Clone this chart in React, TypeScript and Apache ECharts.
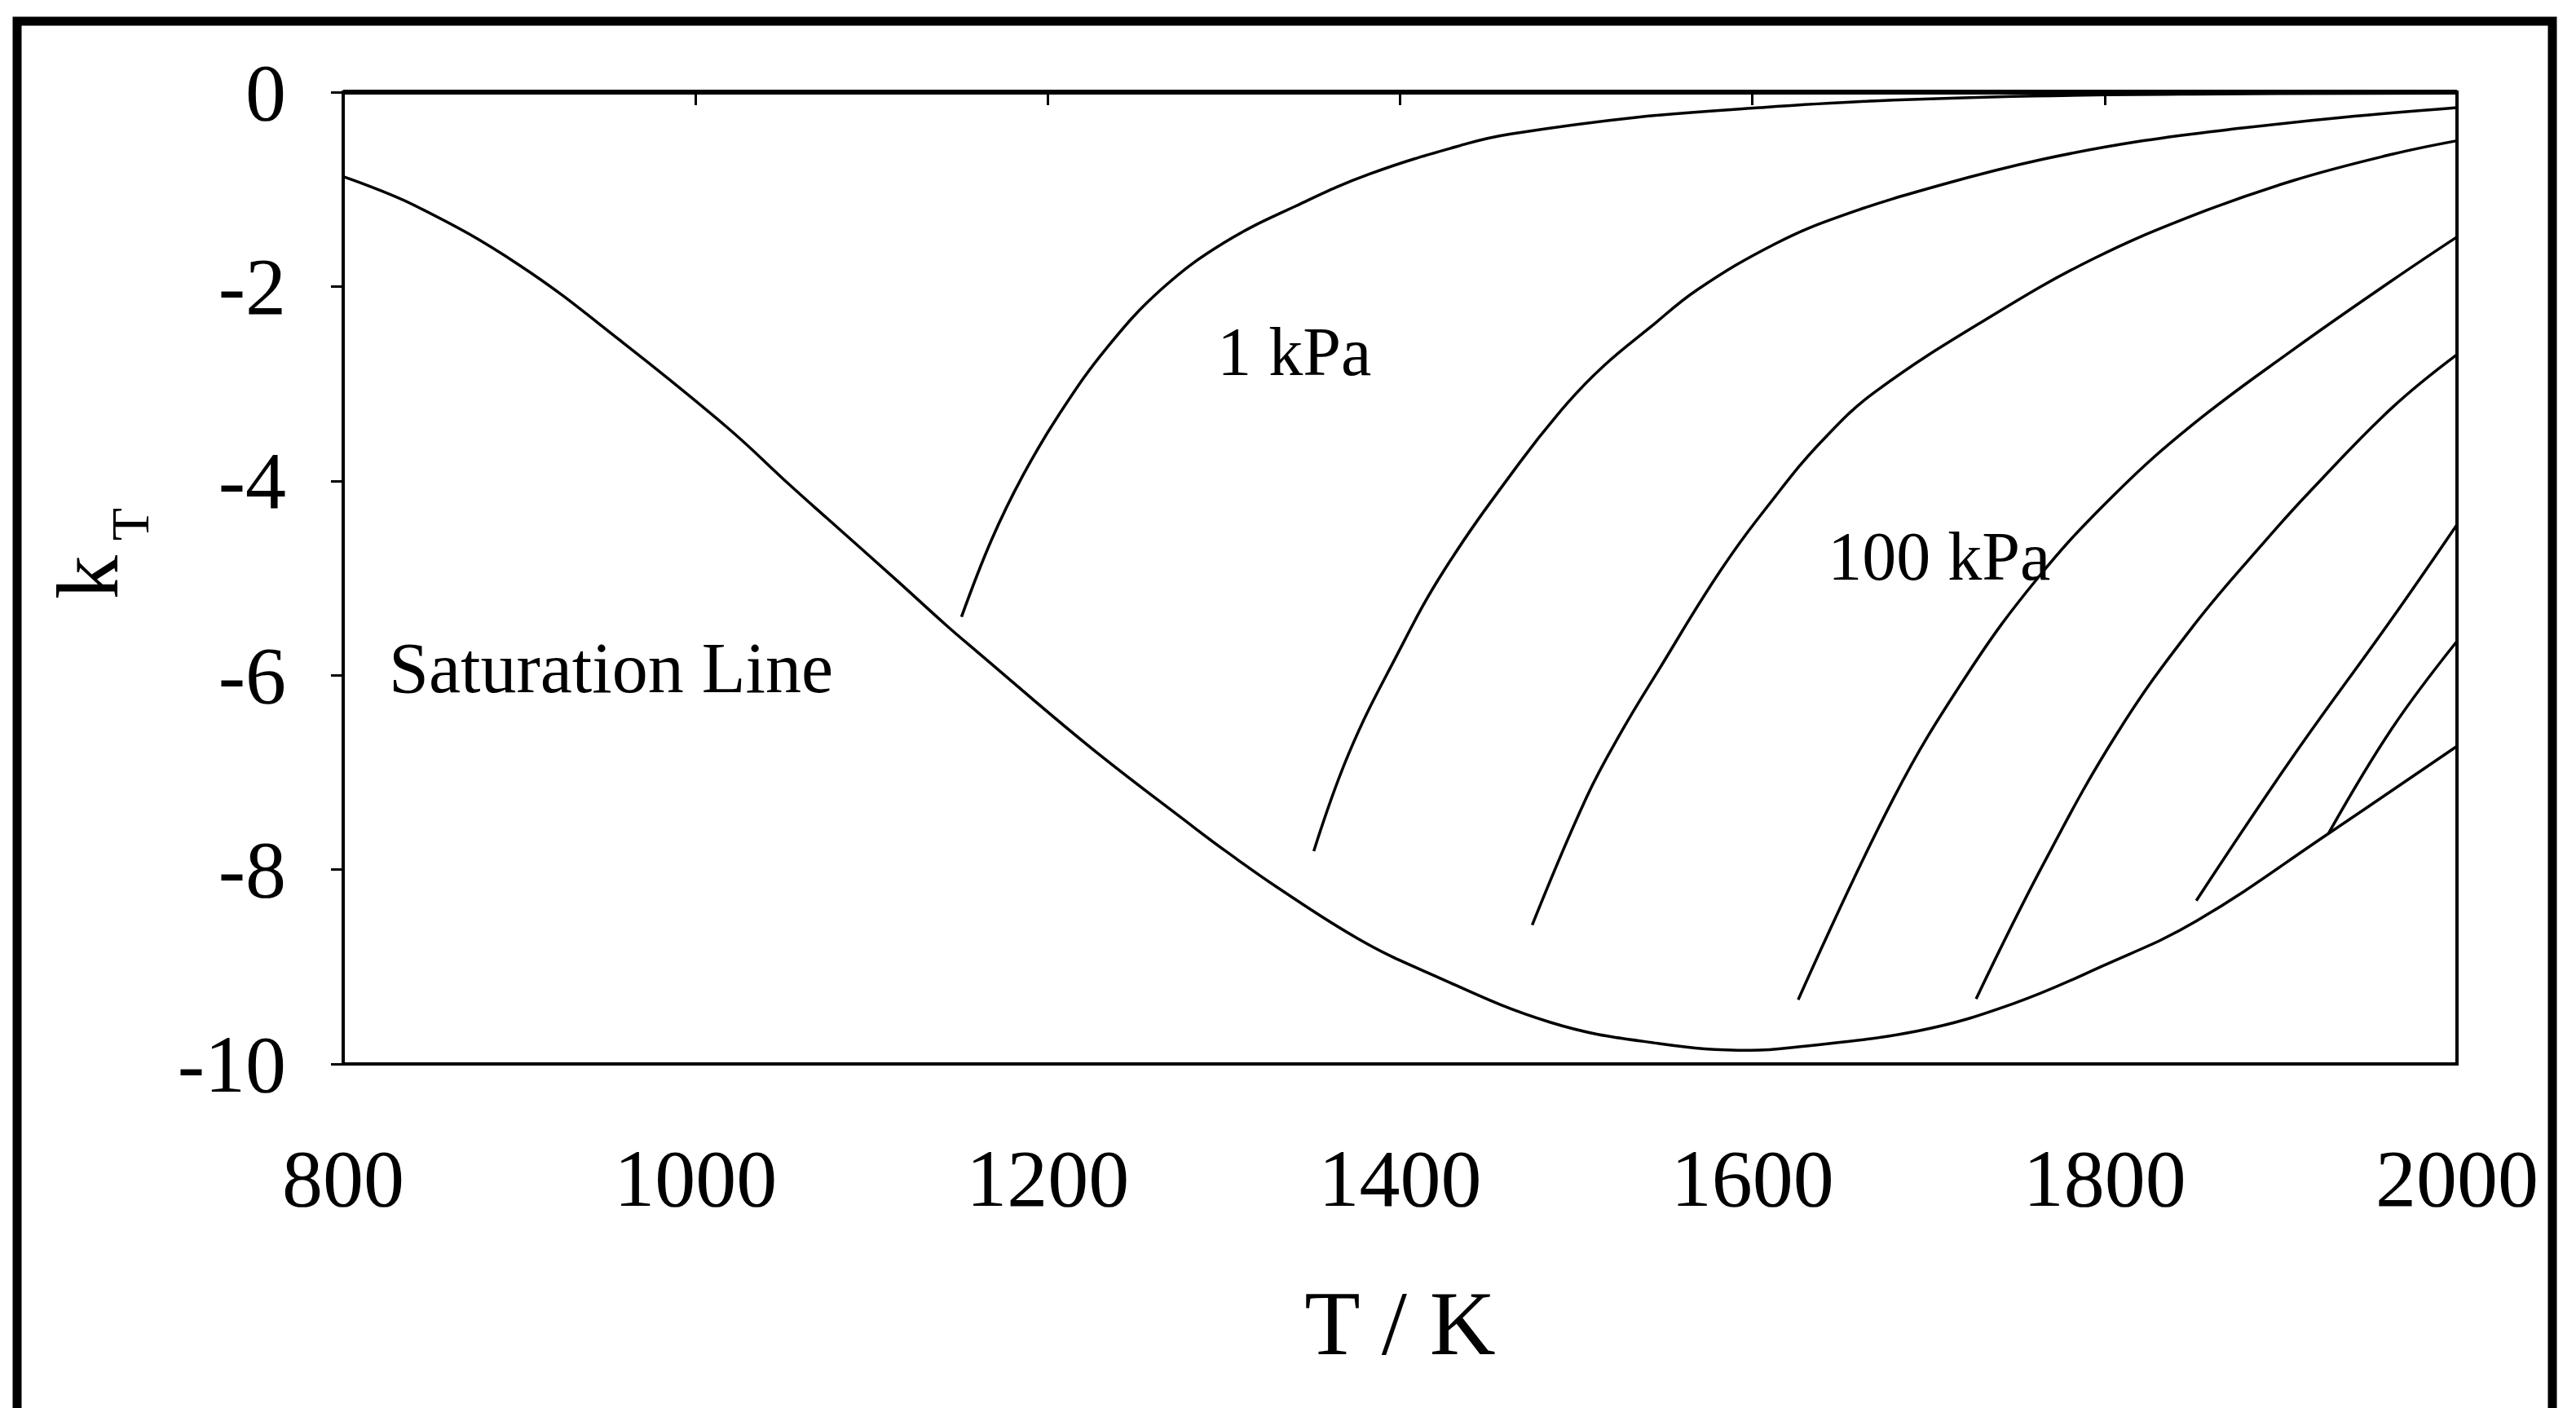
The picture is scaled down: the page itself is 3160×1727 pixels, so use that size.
import React, { useEffect, useRef } from "react";
import * as echarts from "echarts";

// Axis ranges (T / K on x, k_T on y)
const X_MIN = 800;
const X_MAX = 2000;
const X_STEP = 200;
const Y_MIN = -10;
const Y_MAX = 0;
const Y_STEP = 2;

// Saturation line [T, kT]
const saturationLine: [number, number][] = [
  [800, -0.87], [841, -1.17], [900, -1.78], [959, -2.58], [1018, -3.45],
  [1054, -4.05], [1075, -4.39], [1114, -5.02], [1142, -5.48], [1160, -5.76],
  [1224, -6.74], [1284, -7.58], [1301, -7.81], [1330, -8.18], [1376, -8.71],
  [1413, -9.04], [1485, -9.57], [1547, -9.79], [1599, -9.86], [1623, -9.83],
  [1694, -9.66], [1748, -9.38], [1799, -8.99], [1852, -8.53], [1927, -7.63],
  [2000, -6.73],
];

// Isobars, lowest pressure (1 kPa) first
const isobar1: [number, number][] = [
  [1151, -5.4], [1168, -4.61], [1186, -3.94], [1207, -3.3], [1234, -2.62],
  [1265, -2.02], [1300, -1.55], [1341, -1.17], [1383, -0.84], [1438, -0.53],
  [1463, -0.43], [1534, -0.26], [1604, -0.16], [1670, -0.09], [1760, -0.04],
  [1850, -0.02], [2000, -0.01],
];
const isobar2: [number, number][] = [
  [1351, -7.81], [1371, -6.8], [1398, -5.8], [1425, -4.92],
  [1468, -3.81], [1495, -3.2], [1516, -2.81], [1542, -2.42], [1569, -2.03],
  [1613, -1.56], [1651, -1.27], [1708, -0.95], [1765, -0.69], [1822, -0.5],
  [1878, -0.37], [1935, -0.26], [2000, -0.16],
];
const isobar3: [number, number][] = [
  [1475, -8.57], [1506, -7.25], [1526, -6.57], [1547, -5.94], [1582, -4.92],
  [1613, -4.16], [1640, -3.58], [1670, -3.08], [1737, -2.29],
  [1793, -1.72], [1850, -1.27], [1907, -0.91], [1963, -0.64], [2000, -0.5],
];
const isobar4: [number, number][] = [
  [1626, -9.34], [1680, -7.27], [1722, -5.99], [1762, -5.0], [1805, -4.15],
  [1850, -3.42], [1907, -2.65], [1963, -1.94], [2000, -1.49],
];
const isobar5: [number, number][] = [
  [1727, -9.33], [1765, -7.95], [1807, -6.6], [1850, -5.5], [1893, -4.58],
  [1917, -4.1], [1963, -3.25], [2000, -2.7],
];
const isobar6: [number, number][] = [
  [1852, -8.32], [1906, -6.86], [1963, -5.42], [2000, -4.45],
];
const isobar7: [number, number][] = [
  [1927, -7.63], [1963, -6.55], [2000, -5.65],
];

const isobars = [isobar1, isobar2, isobar3, isobar4, isobar5, isobar6, isobar7];

// In-plot annotations and their anchor points in data coordinates
const annotationTexts = ["1 kPa", "100 kPa", "Saturation Line"];
const annotationCoords: [number, number][] = [
  [1340, -2.67],
  [1706, -4.78],
  [952, -5.93],
];

const FONT = "'Liberation Serif', 'Times New Roman', Times, serif";

export default function App() {
  const ref = useRef<HTMLDivElement>(null);

  useEffect(() => {
    if (!ref.current) return;
    const chart = echarts.init(ref.current, null, { renderer: "svg" });

    const lineSeries = (data: [number, number][]) => ({
      type: "line",
      data,
      showSymbol: false,
      symbol: "none",
      smooth: 0.4,
      lineStyle: { color: "#000", width: 3.5 },
      silent: true,
      z: 3,
    });

    chart.setOption({
      animation: false,
      backgroundColor: "#fff",
      grid: {
        left: 421,
        right: 3160 - 3014,
        top: 113,
        bottom: 1727 - 1305,
        show: true,
        borderColor: "#000",
        borderWidth: 4,
        containLabel: false,
      },
      xAxis: {
        type: "value",
        min: X_MIN,
        max: X_MAX,
        interval: X_STEP,
        name: "T / K",
        nameLocation: "middle",
        nameGap: 318,
        nameTextStyle: {
          fontFamily: FONT,
          fontSize: 112,
          color: "#000",
          verticalAlign: "middle",
        },
        axisLine: { show: true, lineStyle: { color: "#000", width: 4 } },
        axisTick: { show: true, inside: false, length: 16, lineStyle: { color: "#000", width: 3 } },
        axisLabel: {
          fontFamily: FONT,
          fontSize: 100,
          color: "#000",
          margin: 140,
          verticalAlign: "middle",
          formatter: (v: number) => String(v),
        },
        splitLine: { show: false },
      },
      yAxis: {
        type: "value",
        min: Y_MIN,
        max: Y_MAX,
        interval: Y_STEP,
        axisLine: { show: true, lineStyle: { color: "#000", width: 4 } },
        axisTick: { show: true, inside: false, length: 15, lineStyle: { color: "#000", width: 3 } },
        axisLabel: {
          fontFamily: FONT,
          fontSize: 100,
          color: "#000",
          margin: 70,
          formatter: (v: number) => String(v),
        },
        splitLine: { show: false },
      },
      graphic: [
        {
          type: "rect",
          silent: true,
          z: 10,
          shape: { x: 21, y: 26, width: 3110, height: 1800 },
          style: { fill: "none", stroke: "#000", lineWidth: 11 },
        },
        {
          type: "line",
          silent: true,
          z: 10,
          shape: { x1: 421, y1: 113, x2: 3014, y2: 113 },
          style: { stroke: "#000", lineWidth: 6 },
        },
        {
          type: "text",
          silent: true,
          x: 107,
          y: 708,
          rotation: Math.PI / 2,
          style: {
            text: "k",
            fontFamily: FONT,
            fontSize: 108,
            fill: "#000",
            align: "center",
            verticalAlign: "middle",
          },
        },
        {
          type: "text",
          silent: true,
          x: 159,
          y: 643,
          rotation: Math.PI / 2,
          style: {
            text: "T",
            fontFamily: FONT,
            fontSize: 66,
            fill: "#000",
            align: "center",
            verticalAlign: "middle",
          },
        },
      ],
      series: [
        lineSeries(saturationLine),
        ...isobars.map((d) => lineSeries(d)),
        {
          type: "scatter",
          symbolSize: 1,
          itemStyle: { color: "transparent" },
          silent: true,
          z: 4,
          data: annotationTexts.map((t, i) => ({
            name: t,
            value: annotationCoords[i],
            label: {
              show: true,
              fontSize: i === 2 ? 88 : 84,
              color: "#000",
              opacity: 1,
            },
          })),
          label: {
            show: true,
            position: "inside",
            formatter: "{b}",
            fontFamily: FONT,
            color: "#000",
            opacity: 1,
            align: "center",
            verticalAlign: "middle",
          },
        },
      ],
    });

    return () => chart.dispose();
  }, []);

  return (
    <div
      ref={ref}
      style={{
        position: "fixed",
        left: 0,
        top: 0,
        width: 3160,
        height: 1727,
        background: "#fff",
      }}
    />
  );
}
